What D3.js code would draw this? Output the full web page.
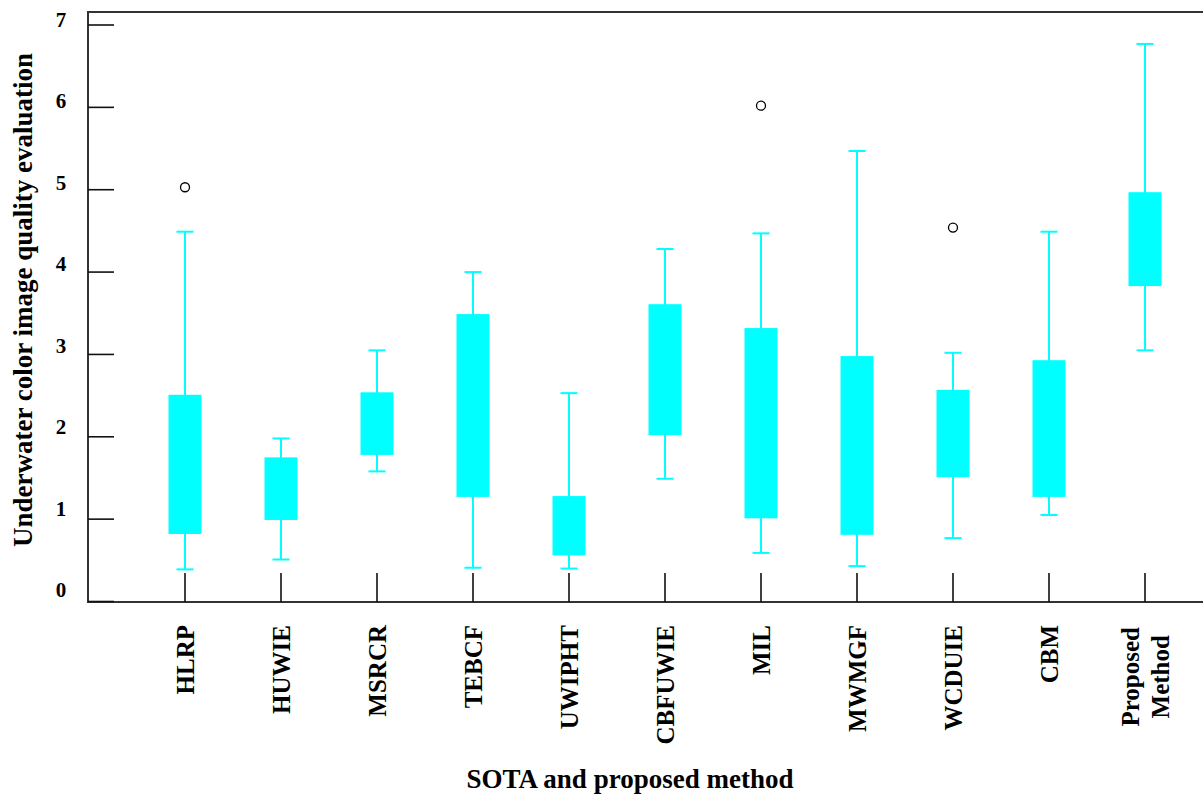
<!DOCTYPE html>
<html>
<head>
<meta charset="utf-8">
<script src="https://cdn.jsdelivr.net/npm/d3@7/dist/d3.min.js"></script>
<style>
  html, body { margin: 0; padding: 0; background: #fff; }
  svg { display: block; }
  text { font-family: "Liberation Serif", "Times New Roman", serif; font-weight: bold; fill: #000; }
</style>
</head>
<body>
<svg id="chart" width="1203" height="796"></svg>
<script>
// Methods compared (bottom axis)
const categories = ["HLRP", "HUWIE", "MSRCR", "TEBCF", "UWIPHT", "CBFUWIE", "MIL", "MWMGF", "WCDUIE", "CBM", "Proposed\nMethod"];
// Box statistics per method
const whiskerLow  = [0.39, 0.51, 1.58, 0.41, 0.40, 1.49, 0.59, 0.43, 0.77, 1.05, 3.05];
const q1          = [0.82, 0.99, 1.78, 1.27, 0.56, 2.02, 1.01, 0.81, 1.51, 1.27, 3.83];
const q3          = [2.51, 1.75, 2.54, 3.49, 1.28, 3.61, 3.32, 2.98, 2.57, 2.93, 4.97];
const whiskerHigh = [4.49, 1.98, 3.05, 4.00, 2.53, 4.28, 4.47, 5.47, 3.02, 4.49, 6.77];
// Outlying scores: [method, value]
const outliers = [["HLRP", 5.03], ["MIL", 6.02], ["WCDUIE", 4.54]];
// Score axis ticks
const yTicks = [0, 1, 2, 3, 4, 5, 6, 7];

const svg = d3.select("#chart");
const frame = { left: 88, top: 12, bottom: 602, right: 1203 };

const y = d3.scaleLinear().domain([0, 7]).range([601.5, 25]);
const x = d3.scalePoint().domain(categories).range([185, 1145]);
// tick labels sit slightly above their tick marks
const yLab = d3.scaleLinear().domain([0, 7]).range([590, 20]);

const boxW = 33, capW = 17;
const cyan = "#00ffff";

const data = categories.map((c, i) => ({
  c, lo: whiskerLow[i], q1: q1[i], q3: q3[i], hi: whiskerHigh[i]
}));

// Whiskers
const g = svg.append("g");
g.selectAll(".whisker").data(data).join("line")
  .attr("x1", d => x(d.c)).attr("x2", d => x(d.c))
  .attr("y1", d => y(d.lo)).attr("y2", d => y(d.hi))
  .attr("stroke", cyan).attr("stroke-width", 2);
g.selectAll(".capHi").data(data).join("line")
  .attr("x1", d => x(d.c) - capW / 2).attr("x2", d => x(d.c) + capW / 2)
  .attr("y1", d => y(d.hi)).attr("y2", d => y(d.hi))
  .attr("stroke", cyan).attr("stroke-width", 2);
g.selectAll(".capLo").data(data).join("line")
  .attr("x1", d => x(d.c) - capW / 2).attr("x2", d => x(d.c) + capW / 2)
  .attr("y1", d => y(d.lo)).attr("y2", d => y(d.lo))
  .attr("stroke", cyan).attr("stroke-width", 2);

// Boxes
g.selectAll(".box").data(data).join("rect")
  .attr("x", d => x(d.c) - boxW / 2).attr("width", boxW)
  .attr("y", d => y(d.q3)).attr("height", d => y(d.q1) - y(d.q3))
  .attr("fill", cyan);

// Outliers
g.selectAll(".out").data(outliers).join("circle")
  .attr("cx", d => x(d[0])).attr("cy", d => y(d[1])).attr("r", 4.5)
  .attr("fill", "none").attr("stroke", "#000").attr("stroke-width", 1.3);

// Frame (left, top, bottom)
svg.append("path")
  .attr("d", `M${frame.right},${frame.top}H${frame.left}V${frame.bottom}H${frame.right}`)
  .attr("fill", "none").attr("stroke", "#333").attr("stroke-width", 2);

// Y ticks pointing inward
svg.selectAll(".ytick").data(yTicks).join("line")
  .attr("x1", frame.left).attr("x2", frame.left + 26)
  .attr("y1", d => y(d)).attr("y2", d => y(d))
  .attr("stroke", "#111").attr("stroke-width", 1.6);
svg.selectAll(".ylab").data(yTicks).join("text")
  .attr("x", 61).attr("y", d => yLab(d))
  .attr("text-anchor", "middle").attr("dominant-baseline", "central")
  .attr("font-size", 21).text(d => d);

// X ticks pointing upward from the baseline
svg.selectAll(".xtick").data(categories).join("line")
  .attr("x1", d => x(d)).attr("x2", d => x(d))
  .attr("y1", 573).attr("y2", frame.bottom)
  .attr("stroke", "#111").attr("stroke-width", 1.6);

// Rotated category labels
categories.forEach(c => {
  const lines = c.split("\n");
  const cx = x(c);
  const t = svg.append("text")
    .attr("transform", `translate(${cx},625) rotate(-90)`)
    .attr("font-size", 25);
  const n = lines.length;
  lines.forEach((ln, k) => {
    t.append("tspan")
      .attr("x", 0)
      .attr("y", (k - (n - 1) / 2) * 30)
      .attr("dominant-baseline", "central")
      .attr("text-anchor", n > 1 ? "middle" : "end")
      .text(ln);
  });
  if (n > 1) {
    // centre multi-line label so its longest line ends at the same top position
    const w = d3.max(t.selectAll("tspan").nodes(), nd => nd.getComputedTextLength());
    t.selectAll("tspan").attr("x", -w / 2 - 2);
  }
});

// Axis titles
svg.append("text")
  .attr("transform", `translate(23,300) rotate(-90)`)
  .attr("text-anchor", "middle").attr("dominant-baseline", "central")
  .attr("font-size", 27).text("Underwater color image quality evaluation");
svg.append("text")
  .attr("x", 630).attr("y", 779)
  .attr("text-anchor", "middle").attr("dominant-baseline", "central")
  .attr("font-size", 27).text("SOTA and proposed method");
</script>
</body>
</html>
